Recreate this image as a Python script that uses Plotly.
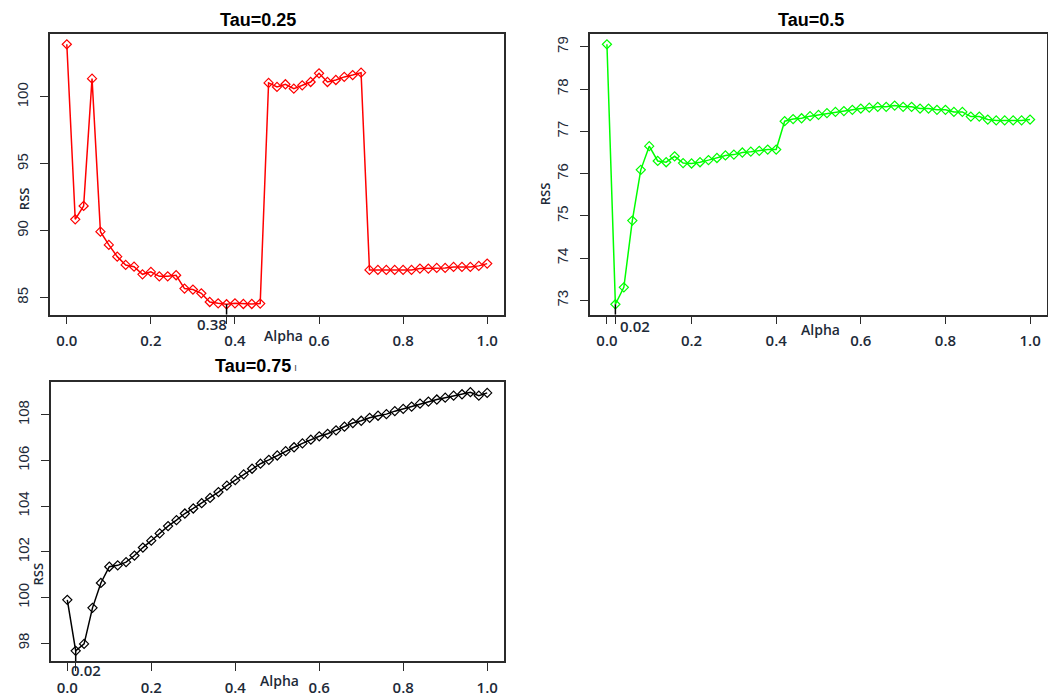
import plotly.graph_objects as go

# ---------------- data ----------------
alpha = [round(i * 0.02, 2) for i in range(51)]

rss_tau025 = [103.94, 90.85, 91.85, 101.37, 89.93, 88.94, 88.06, 87.44, 87.31, 86.74,
              86.92, 86.59, 86.59, 86.67, 85.67, 85.60, 85.32, 84.67, 84.57, 84.50,
              84.57, 84.52, 84.52, 84.55, 101.05, 100.75, 100.95, 100.62, 100.87, 101.12,
              101.77, 101.12, 101.27, 101.50, 101.64, 101.82, 87.07, 87.07, 87.07, 87.07,
              87.07, 87.07, 87.17, 87.17, 87.22, 87.22, 87.29, 87.29, 87.29, 87.37, 87.54]

rss_tau050 = [79.06, 72.91, 73.31, 74.89, 76.09, 76.65, 76.30, 76.27, 76.41, 76.25,
              76.24, 76.27, 76.32, 76.37, 76.43, 76.45, 76.50, 76.52, 76.54, 76.57,
              76.57, 77.24, 77.29, 77.31, 77.36, 77.39, 77.43, 77.46, 77.48, 77.51,
              77.54, 77.56, 77.58, 77.58, 77.61, 77.58, 77.58, 77.54, 77.54, 77.51,
              77.51, 77.46, 77.46, 77.35, 77.35, 77.28, 77.26, 77.26, 77.26, 77.26, 77.28]

rss_tau075 = [99.90, 97.67, 97.97, 99.55, 100.64, 101.35, 101.41, 101.55, 101.84, 102.19,
              102.49, 102.81, 103.13, 103.39, 103.68, 103.90, 104.13, 104.36, 104.62, 104.90,
              105.14, 105.39, 105.64, 105.86, 106.03, 106.22, 106.41, 106.58, 106.75, 106.91,
              107.06, 107.17, 107.32, 107.48, 107.64, 107.74, 107.87, 107.96, 108.03, 108.16,
              108.26, 108.36, 108.49, 108.58, 108.67, 108.75, 108.84, 108.90, 108.99, 108.84, 108.96]

titles = ["Tau=0.25", "Tau=0.5", "Tau=0.75"]
best_alpha = [0.38, 0.02, 0.02]
best_labels = ["0.38", "0.02", "0.02"]
x_tick_vals = [0.0, 0.2, 0.4, 0.6, 0.8, 1.0]
x_tick_text = ["0.0", "0.2", "0.4", "0.6", "0.8", "1.0"]
y_ticks_025 = [85, 90, 95, 100]
y_ticks_050 = [73, 74, 75, 76, 77, 78, 79]
y_ticks_075 = [98, 100, 102, 104, 106, 108]
colors = ["#ff0000", "#00ff00", "#000000"]

# ---------------- layout helpers ----------------
# the page body has an 8px margin, so the figure starts at (8, 8)
OFF = 8
W, H = 1056 - OFF, 697 - OFF


def px(x):
    return (x - OFF) / W


def py(y):
    return 1 - (y - OFF) / H


def rrange(vals):
    lo, hi = min(vals), max(vals)
    s = hi - lo
    return [lo - 0.04 * s, hi + 0.04 * s]


series = [rss_tau025, rss_tau050, rss_tau075]
yticks = [y_ticks_025, y_ticks_050, y_ticks_075]
# plot boxes in page pixels: (left, right, top, bottom)
boxes = [(50, 504, 34, 316), (590, 1047, 34, 316), (50.5, 504, 383.5, 664)]

AX = "#2b2b2b"
LBL = "#1d2a38"

fig = go.Figure()
shapes = []
annotations = []

for i in range(3):
    xa = "x" if i == 0 else f"x{i+1}"
    ya = "y" if i == 0 else f"y{i+1}"
    vals = series[i]
    fig.add_trace(go.Scatter(
        x=alpha, y=vals, mode="lines+markers", xaxis=xa, yaxis=ya,
        line=dict(color=colors[i], width=1.5),
        marker=dict(symbol="diamond-open", size=7, color=colors[i], line=dict(width=1.2, color=colors[i])),
        showlegend=False, hoverinfo="x+y"))

    yr = rrange(vals)
    l, r, t, b = boxes[i]
    tv = sorted(x_tick_vals + [best_alpha[i]])
    tt = [x_tick_text[x_tick_vals.index(v)] if v in x_tick_vals else "" for v in tv]
    xkey = "xaxis" if i == 0 else f"xaxis{i+1}"
    ykey = "yaxis" if i == 0 else f"yaxis{i+1}"
    fig.layout[xkey] = dict(
        domain=[px(l), px(r)], range=[-0.04, 1.04], anchor=ya,
        showline=True, mirror=True, linecolor=AX, linewidth=1.5,
        ticks="outside", ticklen=8, tickwidth=1.3, tickcolor=AX,
        tickvals=tv, ticktext=tt, ticklabelstandoff=4,
        tickfont=dict(family="Open Sans", size=15, color=LBL, weight=600),
        showgrid=False, zeroline=False, fixedrange=True)
    fig.layout[ykey] = dict(
        domain=[py(b), py(t)], range=yr, anchor=xa,
        showline=True, mirror=True, linecolor=AX, linewidth=1.5,
        ticks="outside", ticklen=8, tickwidth=1.3, tickcolor=AX,
        tickvals=yticks[i], tickangle=-90, ticklabelstandoff=6,
        tickfont=dict(family="Liberation Sans", size=15, color=LBL),
        showgrid=False, zeroline=False, fixedrange=True)

    # vertical line from the minimum point down to the axis
    k = alpha.index(best_alpha[i])
    shapes.append(dict(type="line", xref=xa, yref=ya, x0=best_alpha[i], x1=best_alpha[i],
                       y0=vals[k], y1=yr[0], line=dict(color="#000000", width=1.5)))

# titles
title_pos = [(258, 20), (811, 20), (253, 368)]
for (x, y), txt in zip(title_pos, titles):
    annotations.append(dict(text=f"<b>{txt}</b>", x=px(x), y=py(y), xref="paper", yref="paper",
                            xanchor="center", yanchor="middle", showarrow=False,
                            font=dict(family="Liberation Sans", size=18, color="#000000")))
annotations.append(dict(text="ı", x=px(295), y=py(369), xref="paper", yref="paper",
                        xanchor="center", yanchor="middle", showarrow=False,
                        font=dict(family="Liberation Sans", size=11, color="#555555")))

# best-alpha labels
best_pos = [(212, 325), (635, 327), (86, 673)]
for (x, y), txt in zip(best_pos, best_labels):
    annotations.append(dict(text=txt, x=px(x), y=py(y), xref="paper", yref="paper",
                            xanchor="center", yanchor="middle", showarrow=False,
                            font=dict(family="Open Sans", size=15, color=LBL, weight=600)))

# x-axis titles
alpha_pos = [(283, 337), (820, 331), (279, 683)]
for x, y in alpha_pos:
    annotations.append(dict(text="Alpha", x=px(x), y=py(y), xref="paper", yref="paper",
                            xanchor="center", yanchor="middle", showarrow=False,
                            font=dict(family="Open Sans", size=14, color=LBL, weight=600)))

# y-axis titles
rss_pos = [(24, 200), (545, 195), (38, 577)]
for x, y in rss_pos:
    annotations.append(dict(text="RSS", x=px(x), y=py(y), xref="paper", yref="paper",
                            xanchor="center", yanchor="middle", showarrow=False, textangle=-90,
                            font=dict(family="Open Sans", size=13, color=LBL, weight=600)))

fig.update_layout(
    width=W, height=H, margin=dict(l=0, r=0, t=0, b=0),
    paper_bgcolor="white", plot_bgcolor="white",
    shapes=shapes, annotations=annotations, showlegend=False)

fig.write_html("out.html")
